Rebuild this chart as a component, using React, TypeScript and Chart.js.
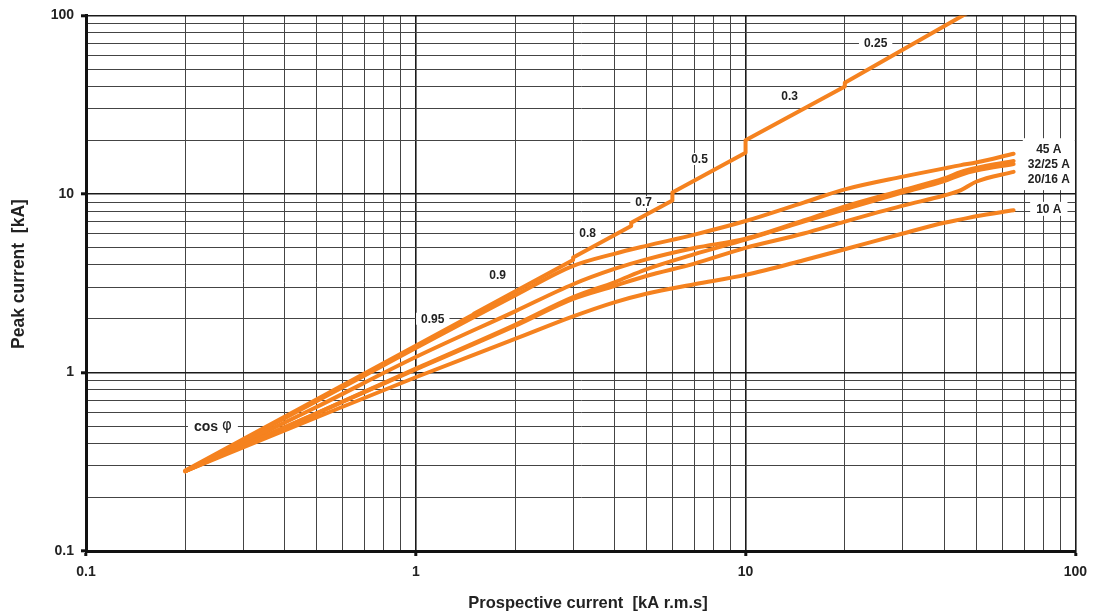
import React, { useEffect, useRef } from 'react';
import { Chart, registerables } from 'chart.js';

Chart.register(...registerables);

const FONT = "'Liberation Sans', Arial, Helvetica, sans-serif";
const ORANGE = '#F5821F';
const TEXT = '#222';

// Axis ticks (log decades) and grid multipliers
const decadeValues = [0.1, 1, 10, 100];
const decadeLabels = ['0.1', '1', '10', '100'];
const gridMultipliers = [1, 2, 3, 4, 5, 6, 7, 8, 9];

// Unlimited peak current (cos φ steps)
const cosPhiX = [0.2, 1.5, 1.5, 3, 3, 4.5, 4.5, 6, 6, 10, 10, 20, 20, 50];
const cosPhiY = [0.282, 2.12, 2.13, 4.26, 4.41, 6.62, 6.89, 9.18, 10.2, 17.0, 20.0, 40.0, 42.0, 110];

// Limited peak current per rating
const limX = [0.2, 0.5, 1, 2, 3, 4, 5, 7, 10, 15, 20, 30, 40, 45, 50, 65];
const a45 = [0.28, 0.69, 1.37, 2.7, 3.95, 4.62, 5.12, 5.92, 7.05, 8.95, 10.6, 12.5, 13.9, 14.5, 15.0, 16.8];
const a32 = [0.28, 0.64, 1.22, 2.2, 3.12, 3.8, 4.3, 4.98, 5.62, 7.1, 8.5, 10.5, 12.2, 13.3, 14.0, 15.3];
const a25 = [0.28, 0.59, 1.05, 1.85, 2.64, 3.2, 3.78, 4.6, 5.55, 7.0, 8.2, 10.2, 11.8, 12.8, 13.5, 14.7];
const a20 = [0.28, 0.59, 1.04, 1.82, 2.58, 3.05, 3.47, 4.07, 4.99, 6.0, 7.0, 8.6, 9.8, 10.5, 11.7, 13.3];
const a10 = [0.28, 0.56, 0.94, 1.54, 2.06, 2.47, 2.76, 3.12, 3.52, 4.25, 4.9, 6.0, 6.9, 7.2, 7.5, 8.1];

// cos φ labels along the unlimited curve
const cosLabelText = ['0.95', '0.9', '0.8', '0.7', '0.5', '0.3', '0.25'];
const cosLabelX = [1.126, 1.77, 3.32, 4.91, 7.25, 13.6, 24.8];
const cosLabelY = [2.0, 3.52, 6.0, 9.0, 15.7, 35.2, 70];

// Rating labels
const ratingText = ['45 A', '32/25 A', '20/16 A'];
const ratingY = [17.8, 14.7, 12.1];
const ratingX = 83.1;
const tenText = '10 A';
const tenY = 8.25;

const cosPhiTitleX = 0.2426;
const cosPhiTitleY = 0.5;

const xTitle = 'Prospective current  [kA r.m.s]';
const yTitle = 'Peak current  [kA]';

const gridValues: number[] = [];
decadeValues.forEach((d, i) => {
  if (i === decadeValues.length - 1) gridValues.push(d);
  else gridMultipliers.forEach((m) => gridValues.push(+(d * m).toPrecision(6)));
});

const isDecade = (v: number) => {
  const l = Math.log10(v);
  return Math.abs(l - Math.round(l)) < 1e-6;
};
const labelFor = (v: number) => {
  const i = decadeValues.findIndex((d) => Math.abs(d - v) / d < 1e-6);
  return i >= 0 ? decadeLabels[i] : '';
};

const pts = (xs: number[], ys: number[]) => xs.map((x, i) => ({ x, y: ys[i] }));

const annotPlugin = {
  id: 'annot',
  beforeDatasetsDraw(chart: any) {
    const { ctx } = chart;
    const xs = chart.scales.x;
    const ys = chart.scales.y;
    ctx.save();
    ctx.textAlign = 'center';
    ctx.textBaseline = 'middle';
    ctx.font = `bold 12px ${FONT}`;
    cosLabelText.forEach((t, i) => {
      const px = xs.getPixelForValue(cosLabelX[i]);
      const py = ys.getPixelForValue(cosLabelY[i]);
      const w = ctx.measureText(t).width;
      ctx.fillStyle = '#fff';
      ctx.fillRect(px - w / 2 - 5, py - 6, w + 10, 12);
      ctx.fillStyle = TEXT;
      ctx.fillText(t, px, py + 0.5);
    });
    ctx.font = `bold 12px ${FONT}`;
    const rx = xs.getPixelForValue(ratingX);
    const widths = ratingText.map((t) => ctx.measureText(t).width);
    const maxW = Math.max(...widths);
    const top = ys.getPixelForValue(ratingY[0]) - 11;
    const bot = ys.getPixelForValue(ratingY[ratingY.length - 1]) + 11;
    ctx.fillStyle = '#fff';
    ctx.fillRect(rx - maxW / 2 - 5, top, maxW + 10, bot - top);
    ctx.fillStyle = TEXT;
    ratingText.forEach((t, i) => {
      ctx.fillText(t, rx, ys.getPixelForValue(ratingY[i]) + 0.5);
    });
    const ty = ys.getPixelForValue(tenY);
    const tw = ctx.measureText(tenText).width;
    ctx.fillStyle = '#fff';
    ctx.fillRect(rx - tw / 2 - 6, ty - 7, tw + 12, 14);
    ctx.fillStyle = TEXT;
    ctx.fillText(tenText, rx, ty + 0.5);
    const cx = xs.getPixelForValue(cosPhiTitleX);
    const cy = ys.getPixelForValue(cosPhiTitleY);
    ctx.font = `bold 14px ${FONT}`;
    const w1 = ctx.measureText('cos ').width;
    ctx.font = `15px 'DejaVu Sans', ${FONT}`;
    const w2 = ctx.measureText('φ').width;
    const tot = w1 + w2;
    ctx.fillStyle = '#fff';
    ctx.fillRect(cx - tot / 2 - 6, cy - 8, tot + 12, 16);
    ctx.fillStyle = TEXT;
    ctx.textAlign = 'left';
    ctx.font = `bold 14px ${FONT}`;
    ctx.fillText('cos ', cx - tot / 2, cy + 1);
    ctx.font = `15px 'DejaVu Sans', ${FONT}`;
    ctx.fillText('φ', cx - tot / 2 + w1, cy);
    ctx.restore();
  },
  afterDraw(chart: any) {
    const { ctx } = chart;
    ctx.save();
    ctx.fillStyle = TEXT;
    ctx.textAlign = 'center';
    ctx.textBaseline = 'middle';
    ctx.font = `bold 16.5px ${FONT}`;
    ctx.fillText(xTitle, 588, 603);
    ctx.font = `bold 17.5px ${FONT}`;
    ctx.translate(19, 274);
    ctx.rotate(-Math.PI / 2);
    ctx.fillText(yTitle, 0, 0);
    ctx.restore();
  },
};

const gridColor = (ctx: any) => {
  const v = ctx.tick?.value;
  if (v === undefined) return '#555';
  return isDecade(v) ? '#1a1a1a' : '#444';
};
const gridWidth = (ctx: any) => {
  const v = ctx.tick?.value;
  if (v === undefined) return 1;
  return isDecade(v) ? 1.6 : 1;
};
const tickColor = (ctx: any) => {
  const v = ctx.tick?.value;
  return v !== undefined && isDecade(v) ? '#111' : 'rgba(0,0,0,0)';
};

export default function App() {
  const ref = useRef<HTMLCanvasElement>(null);
  useEffect(() => {
    const canvas = ref.current;
    if (!canvas) return;
    const lineDs = (label: string, data: any[], smooth: boolean) => ({
      label,
      data,
      borderColor: ORANGE,
      backgroundColor: ORANGE,
      borderWidth: 4,
      pointRadius: 0,
      fill: false,
      tension: 0,
      cubicInterpolationMode: smooth ? 'monotone' : 'default',
      borderCapStyle: 'round',
      borderJoinStyle: 'round',
    });
    const chart = new Chart(canvas, {
      type: 'line',
      data: {
        datasets: [
          lineDs('10 A', pts(limX, a10), true),
          lineDs('20/16 A', pts(limX, a20), true),
          lineDs('25 A', pts(limX, a25), true),
          lineDs('32 A', pts(limX, a32), true),
          lineDs('45 A', pts(limX, a45), true),
          lineDs('cos φ', pts(cosPhiX, cosPhiY), false),
        ] as any,
      },
      options: {
        responsive: false,
        animation: false,
        devicePixelRatio: 1,
        layout: { padding: { left: 0, top: 12, right: 19, bottom: 0 } },
        plugins: { legend: { display: false }, tooltip: { enabled: false }, title: { display: false } },
        scales: {
          x: {
            type: 'logarithmic',
            min: 0.1,
            max: 100,
            afterBuildTicks: (scale: any) => {
              scale.ticks = gridValues.map((v) => ({ value: v, major: isDecade(v) }));
            },
            afterFit: (scale: any) => {
              scale.height = 64;
            },
            ticks: {
              autoSkip: false,
              maxRotation: 0,
              minRotation: 0,
              padding: 8,
              color: TEXT,
              font: { family: FONT, size: 14, weight: 'bold' },
              callback: (v: any) => labelFor(Number(v)),
            },
            grid: {
              color: gridColor,
              lineWidth: gridWidth,
              drawTicks: true,
              tickLength: 5,
              tickWidth: 3,
              tickColor: tickColor,
            },
            border: { display: true, color: '#111', width: 3 },
          },
          y: {
            type: 'logarithmic',
            min: 0.1,
            max: 100,
            afterBuildTicks: (scale: any) => {
              scale.ticks = gridValues.map((v) => ({ value: v, major: isDecade(v) }));
            },
            afterFit: (scale: any) => {
              scale.width = 86;
            },
            ticks: {
              autoSkip: false,
              padding: 7,
              color: TEXT,
              font: { family: FONT, size: 14, weight: 'bold' },
              callback: (v: any) => labelFor(Number(v)),
            },
            grid: {
              color: gridColor,
              lineWidth: gridWidth,
              drawTicks: true,
              tickLength: 5,
              tickWidth: 3,
              tickColor: tickColor,
            },
            border: { display: true, color: '#111', width: 3 },
          },
        },
      } as any,
      plugins: [annotPlugin],
    });
    return () => chart.destroy();
  }, []);
  return (
    <div style={{ position: 'absolute', left: 0, top: 0, width: 1095, height: 615, background: '#fff' }}>
      <canvas ref={ref} width={1095} height={615} style={{ display: 'block', width: 1095, height: 615 }} />
    </div>
  );
}
